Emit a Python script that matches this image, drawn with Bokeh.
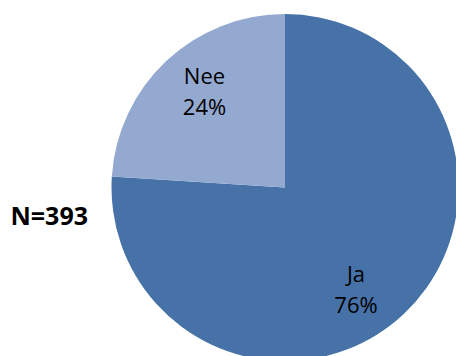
import math
from bokeh.plotting import figure
from bokeh.models import Range1d, ColumnDataSource
from bokeh.core.properties import value
from bokeh.embed import file_html
from bokeh.resources import INLINE

# data
categories = ["Ja", "Nee"]
percents = [76, 24]
sample_label = "N=393"

# style / layout
colors = ["#4672A8", "#94A9CF"]
W, H = 456, 356
cx, cy, r = 284.5, H - 187, 173.5
label_pos = [(355.5, H - 288), (204, H - 90)]

p = figure(width=W, height=H, output_backend="svg", toolbar_location=None,
           x_range=Range1d(0, W), y_range=Range1d(0, H), min_border=0)
p.axis.visible = False
p.grid.visible = False
p.outline_line_color = None
p.background_fill_color = "white"

total = sum(percents)
# clockwise from 12 o'clock
starts, ends = [], []
a = math.pi / 2
for v in percents:
    sweep = v / total * 2 * math.pi
    starts.append(a - sweep)
    ends.append(a)
    a -= sweep

src = ColumnDataSource(dict(start=starts, end=ends, color=colors,
                            x=[cx] * len(percents), y=[cy] * len(percents)))
p.wedge(x="x", y="y", radius=r, start_angle="start", end_angle="end",
        color="color", line_color=None, source=src)

texts = [f"{c}\n{v}%" for c, v in zip(categories, percents)]
p.text(x=[q[0] for q in label_pos], y=[q[1] for q in label_pos], text=texts,
       text_font=value("Open Sans"), text_font_size="22px", text_color="black",
       text_align="center", text_baseline="middle", text_line_height=1.02)

p.text(x=[10], y=[H - 214], text=[sample_label], text_font=value("Open Sans"),
       text_font_size="25px", text_font_style="bold", text_color="black",
       text_align="left", text_baseline="middle")

open("out.html", "w").write(file_html(p, INLINE))
